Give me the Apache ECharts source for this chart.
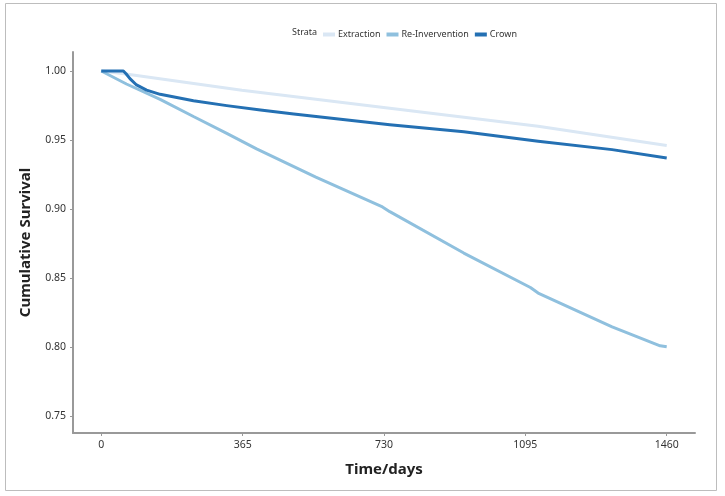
<!DOCTYPE html>
<html><head><meta charset="utf-8">
<script src="https://cdn.jsdelivr.net/npm/echarts@6/dist/echarts.min.js"></script>
<style>html,body{margin:0;padding:0;background:#fff}#c{width:725px;height:496px}</style>
</head><body><div id="c"></div>
<script>
const seriesNames = ['Extraction', 'Re-Invervention', 'Crown'];
const xTicks = [0, 365, 730, 1095, 1460];
const yTicks = [0.75, 0.80, 0.85, 0.90, 0.95, 1.00];

const extractionDays = [0, 59, 363, 745, 1128, 1460];
const extractionSurv = [1.000, 0.998, 0.986, 0.973, 0.960, 0.946];

const reintDays = [0, 65, 152, 238, 324, 401, 554, 726, 745, 936, 1108, 1128, 1319, 1443, 1460];
const reintSurv = [1.000, 0.9906, 0.9795, 0.967, 0.9548, 0.9435, 0.923, 0.9014, 0.898, 0.868, 0.843, 0.839, 0.8145, 0.8007, 0.800];

const crownDays = [0, 57, 64, 74, 91, 117, 152, 238, 324, 411, 497, 745, 936, 1128, 1319, 1460];
const crownSurv = [1.000, 1.000, 0.998, 0.9945, 0.9899, 0.9862, 0.9831, 0.9785, 0.9749, 0.9717, 0.9688, 0.961, 0.956, 0.949, 0.943, 0.937];

const colors = ['#dae7f4', '#8fc0de', '#2470b3'];

function pairs(d, s) { return d.map((x, i) => [x, s[i]]); }

const chart = echarts.init(document.getElementById('c'));
const font = 'Noto Sans';
chart.setOption({
  animation: false,
  color: colors,
  textStyle: { fontFamily: font },
  graphic: [
    { type: 'rect', shape: { x: 5.5, y: 3.5, width: 711, height: 487 }, style: { fill: 'none', stroke: '#bdbdbd', lineWidth: 1 } },
    { type: 'text', left: 292, top: 28, style: { text: 'Strata', fontSize: 9, fill: '#333', fontFamily: font } }
  ],
  legend: {
    left: 318, top: 25,
    itemWidth: 12, itemHeight: 4, itemGap: 6,
    icon: 'rect',
    textStyle: { fontSize: 9, color: '#333', padding: [0, 0, 0, -2] },
    data: seriesNames
  },
  grid: { left: 73, right: 30, top: 52, bottom: 63, containLabel: false },
  xAxis: {
    type: 'value', min: -73, max: 1533,
    name: 'Time/days', nameLocation: 'middle', nameGap: 29,
    nameTextStyle: { fontSize: 15, fontWeight: 'bold', color: '#222' },
    axisLine: { onZero: false, lineStyle: { color: '#999', width: 2 } },
    axisTick: { show: true, length: 3, lineStyle: { color: '#999' }, customValues: xTicks },
    axisLabel: { fontSize: 10.5, color: '#333', margin: 7, customValues: xTicks, formatter: v => String(v) },
    splitLine: { show: false }
  },
  yAxis: {
    type: 'value', min: 0.7375, max: 1.0138,
    name: 'Cumulative Survival', nameLocation: 'middle', nameGap: 40, nameRotate: 90,
    nameTextStyle: { fontSize: 15, fontWeight: 'bold', color: '#222' },
    axisLine: { show: true, onZero: false, lineStyle: { color: '#999', width: 2 } },
    axisTick: { show: true, length: 3, lineStyle: { color: '#999' }, customValues: yTicks },
    axisLabel: { fontSize: 10.5, color: '#333', margin: 7, customValues: yTicks, formatter: v => v.toFixed(2) },
    splitLine: { show: false }
  },
  series: [
    { name: seriesNames[0], type: 'line', showSymbol: false, data: pairs(extractionDays, extractionSurv), lineStyle: { width: 3, color: colors[0] }, z: 1 },
    { name: seriesNames[1], type: 'line', showSymbol: false, data: pairs(reintDays, reintSurv), lineStyle: { width: 3, color: colors[1] }, z: 2 },
    { name: seriesNames[2], type: 'line', showSymbol: false, data: pairs(crownDays, crownSurv), lineStyle: { width: 3, color: colors[2], join: 'round' }, z: 3 }
  ]
});
</script></body></html>
